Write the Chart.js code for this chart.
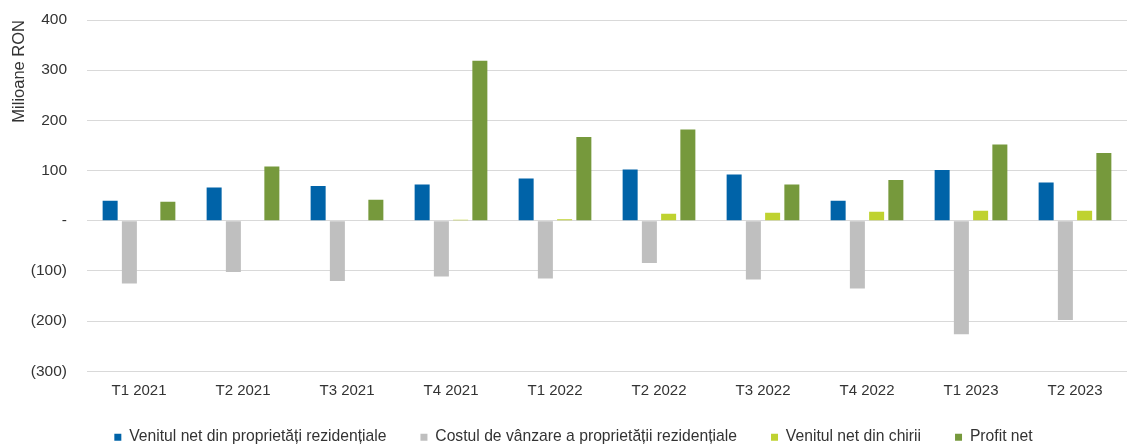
<!DOCTYPE html>
<html>
<head>
<meta charset="utf-8">
<script src="https://cdn.jsdelivr.net/npm/chart.js@4"></script>
<style>
  html, body { margin: 0; padding: 0; background: #fff; }
  #wrap { width: 1127px; height: 444px; }
</style>
</head>
<body>
<div id="wrap"><canvas id="chart" width="1127" height="444"></canvas></div>
<script>
const quarters = ['T1 2021', 'T2 2021', 'T3 2021', 'T4 2021', 'T1 2022', 'T2 2022', 'T3 2022', 'T4 2022', 'T1 2023', 'T2 2023'];
const venitRezidential = [40, 66, 69, 72, 84, 102, 92, 40, 101, 76];
const costVanzare = [-125, -102, -120, -111, -115, -84, -117, -135, -226, -198];
const venitChirii = [0, 0, 0, 2, 3, 14, 16, 18, 20, 20];
const profitNet = [38, 108, 42, 319, 167, 182, 72, 81, 152, 135];

const fontFamily = '"Liberation Sans", Arial, sans-serif';
const textColor = '#333333';

const fmtTick = v => {
    if (v === 0) return '-';
    if (v < 0) return '(' + Math.abs(v) + ')';
    return String(v);
};

const makeSet = (label, data, color) => ({
    label: label,
    data: data,
    backgroundColor: color,
    borderWidth: 0,
    categoryPercentage: 0.74,
    barPercentage: 0.78
});

new Chart(document.getElementById('chart').getContext('2d'), {
    type: 'bar',
    data: {
        labels: quarters,
        datasets: [
            makeSet('Venitul net din proprietăți rezidențiale', venitRezidential, '#0063a8'),
            makeSet('Costul de vânzare a proprietății rezidențiale', costVanzare, '#bfbfbf'),
            makeSet('Venitul net din chirii', venitChirii, '#bfd230'),
            makeSet('Profit net', profitNet, '#76993c')
        ]
    },
    options: {
        responsive: false,
        animation: false,
        // left padding shifts the centred legend a little to the right, like the original
        layout: { padding: { top: 20, right: 0, bottom: -11, left: 20 } },
        plugins: {
            tooltip: { enabled: false },
            legend: {
                position: 'bottom',
                labels: {
                    boxWidth: 7,
                    boxHeight: 7,
                    padding: 34,
                    color: textColor,
                    font: { family: fontFamily, size: 15.7 }
                }
            }
        },
        scales: {
            x: {
                grid: { display: false, drawTicks: false },
                border: { display: false },
                ticks: { color: textColor, padding: 11, font: { family: fontFamily, size: 15 } },
                afterFit: scale => { scale.height = 24; }
            },
            y: {
                min: -300,
                max: 400,
                grid: { color: '#d9d9d9', lineWidth: 1, drawTicks: true, tickLength: 20, tickColor: 'rgba(0,0,0,0)' },
                border: { display: false },
                ticks: {
                    stepSize: 100,
                    padding: 0,
                    color: textColor,
                    font: { family: fontFamily, size: 15.5 },
                    callback: fmtTick
                },
                title: {
                    display: true,
                    text: 'Milioane RON',
                    align: 'end',
                    color: textColor,
                    padding: { top: -10, bottom: 0 },
                    font: { family: fontFamily, size: 16.5 }
                },
                afterFit: scale => { scale.width = 67; }
            }
        }
    }
});
</script>
</body>
</html>
